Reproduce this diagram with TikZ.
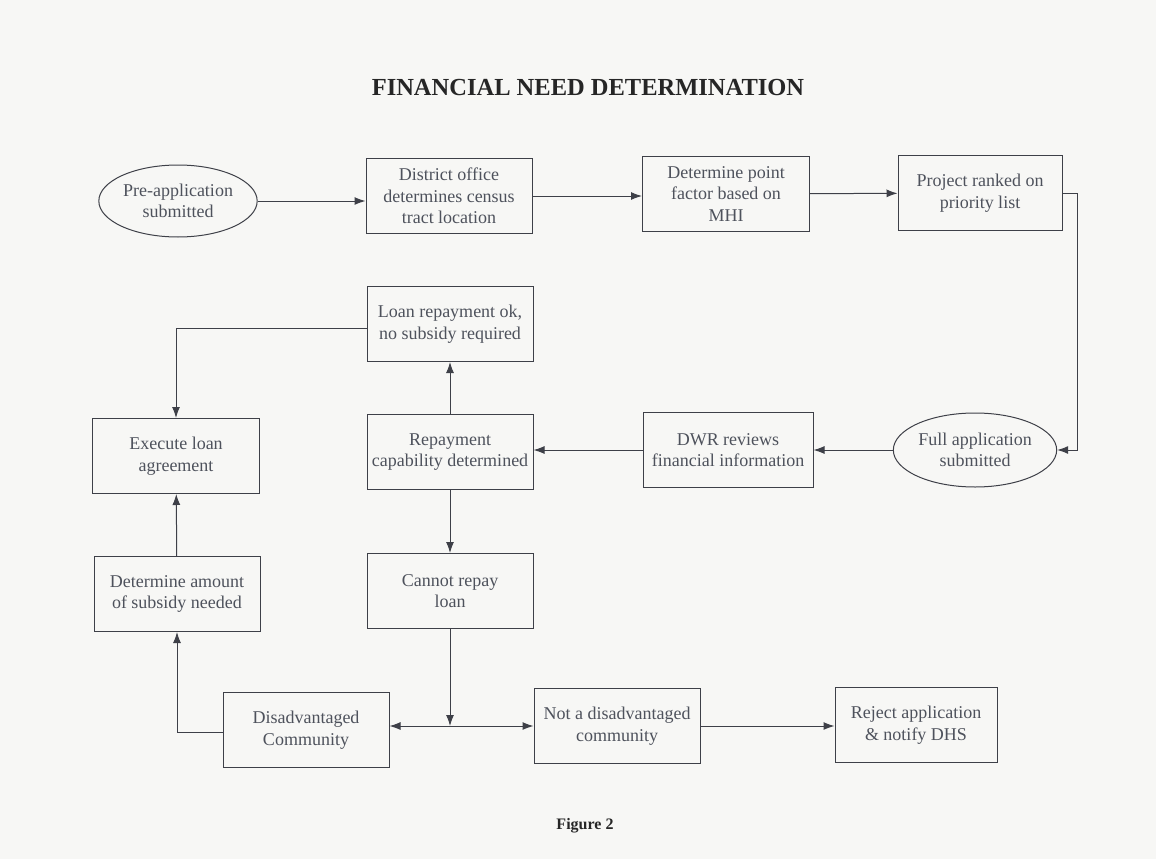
\documentclass[tikz,border=0pt]{standalone}
\usepackage{fontspec}
\setmainfont{Liberation Serif}
\usetikzlibrary{shapes.geometric,arrows.meta}
\definecolor{paper}{RGB}{247,247,245}
\definecolor{ink}{RGB}{62,64,72}
\definecolor{txt}{RGB}{78,82,92}
\tikzset{
  box/.style={draw=ink, line width=1pt, minimum width=166, minimum height=75,
    align=center, text=txt, font=\fontsize{18}{21.5}\selectfont, inner sep=1pt},
  oval/.style={box, ellipse, minimum width=158, minimum height=72},
  tip/.style={-{Latex[length=11pt,width=8pt]}},
  arr/.style={draw=ink, line width=1pt, tip},
}
\begin{document}
\begin{tikzpicture}[x=1pt,y=-1pt]
  \fill[paper] (0,0) rectangle (1156,859);
  \useasboundingbox (0,0) rectangle (1156,859);
  \node[text=black!85, font=\bfseries\fontsize{24.5}{28}\selectfont] (title) at (588,88) {FINANCIAL NEED DETERMINATION};
  % top row
  \node[oval] (pre) at (178,201) {Pre-application\\submitted};
  \node[box] (dist) at (449,196) {District office\\determines census\\tract location};
  \node[box, minimum width=167] (mhi) at (726,194) {Determine point\\factor based on\\MHI};
  \node[box, minimum width=164] (rank) at (980,193) {Project ranked on\\priority list};
  % middle
  \node[box] (ok) at (450,324) {Loan repayment ok,\\no subsidy required};
  \node[box, minimum width=167] (exec) at (176,456) {Execute loan\\agreement};
  \node[box] (cap) at (450,452) {Repayment\\capability determined};
  \node[box, minimum width=170] (dwr) at (728,450) {DWR reviews\\financial information};
  \node[oval, minimum height=74] (full) at (975,450) {Full application\\submitted};
  \node[box] (cannot) at (450,591) {Cannot repay\\loan};
  \node[box] (amount) at (177,594) {Determine amount\\of subsidy needed};
  % bottom row
  \node[box] (dis) at (306,730) {Disadvantaged\\Community};
  \node[box] (notdis) at (617,726) {Not a disadvantaged\\community};
  \node[box, minimum width=162] (reject) at (916,725) {Reject application\\\& notify DHS};
  \node[text=black!85, font=\bfseries\fontsize{16}{18}\selectfont] (fig) at (585,826) {Figure 2};
  \coordinate (j) at (cannot.south |- notdis.west);
  \draw[arr] (pre.east) -- (pre.east -| dist.west);
  \draw[arr] (dist.east) -- (dist.east -| mhi.west);
  \path (mhi) edge [arr] (rank);
  \draw[arr] (rank.east) -- ++(15,0) |- (full.east);
  \path (full) edge [arr] (dwr);
  \draw[arr] (dwr.west) -- (dwr.west -| cap.east);
  \path (cap) edge [arr] (ok);
  \draw[arr] ([yshift=-4pt]ok.west) -| (exec.north);
  \path (cap) edge [arr] (cannot);
  \draw[arr] (cannot.south) -- (j);
  \draw[arr, {Latex[length=11pt,width=8pt]}-{Latex[length=11pt,width=8pt]}] (dis.east |- notdis.west) -- (notdis.west);
  \draw[arr] ([yshift=-2pt]dis.west) -| (amount.south);
  \path (amount) edge [arr] (exec);
  \draw[arr] (notdis.east) -- (notdis.east -| reject.west);
\end{tikzpicture}
\end{document}
